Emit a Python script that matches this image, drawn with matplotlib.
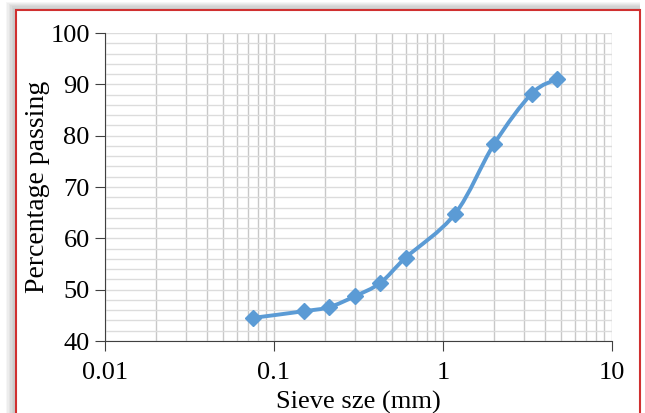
import numpy as np
import matplotlib
matplotlib.use('Agg')
import matplotlib.pyplot as plt
from matplotlib.path import Path
from matplotlib.patches import PathPatch, Rectangle

# sieve analysis data
sieve_mm = [0.075, 0.15, 0.212, 0.3, 0.425, 0.6, 1.18, 2.0, 3.35, 4.75]
passing = [44.5, 45.8, 46.6, 48.7, 51.3, 56.2, 64.8, 78.3, 88.2, 91.0]
xticks = [0.01, 0.1, 1, 10]
xticklabels = ['0.01', '0.1', '1', '10']
yticks = [40, 50, 60, 70, 80, 90, 100]

plt.rcParams['font.family'] = ['Liberation Serif', 'DejaVu Serif']
blue = '#5b9bd5'

fig = plt.figure(figsize=(6.45, 4.13), dpi=100)
# soft shadow then red frame
W, H = 645.0, 413.0
for k in range(8):
    fig.patches.append(Rectangle(((16 - k*1.5)/W, -0.05), (624 + k*1.5)/W, (413 - 10 + k*1.2)/H + 0.05,
                                 transform=fig.transFigure, facecolor='#000000', alpha=0.035,
                                 edgecolor='none', zorder=-10))
fig.patches.append(Rectangle((16/W, -0.05), 624/W, (413 - 10)/H + 0.05, transform=fig.transFigure,
                             facecolor='white', edgecolor='#d03030', lw=1.5, zorder=-5))

ax = fig.add_axes([105/645, 1 - 341/413, (612-105)/645, (341-33)/413])
ax.patch.set_alpha(0)
ax.set_xscale('log')
ax.set_xlim(0.01, 10)
ax.set_ylim(40, 100)

# smooth curve (catmull-rom as cubic bezier in log-x space)
lx = np.log10(sieve_mm)
py = np.array(passing)
verts = [(lx[0], py[0])]
codes = [Path.MOVETO]
n = len(lx)
for i in range(n - 1):
    p0 = (lx[max(i-1, 0)], py[max(i-1, 0)])
    p1 = (lx[i], py[i])
    p2 = (lx[i+1], py[i+1])
    p3 = (lx[min(i+2, n-1)], py[min(i+2, n-1)])
    c1 = (p1[0] + (p2[0]-p0[0])/6, p1[1] + (p2[1]-p0[1])/6)
    c2 = (p2[0] - (p3[0]-p1[0])/6, p2[1] - (p3[1]-p1[1])/6)
    verts += [c1, c2, p2]
    codes += [Path.CURVE4]*3
verts = [(10**vx, vy) for vx, vy in verts]
ax.add_patch(PathPatch(Path(verts, codes), facecolor='none', edgecolor=blue, lw=2.8, zorder=3))
ax.plot(sieve_mm, passing, linestyle='none', marker='D', ms=8, color=blue, zorder=4)

ax.set_yticks(yticks)
ax.set_yticks(np.arange(40, 101, 2), minor=True)
ax.set_xticks(xticks)
ax.set_xticklabels(xticklabels)
ax.xaxis.set_minor_locator(matplotlib.ticker.LogLocator(subs=np.arange(2, 10)))
ax.xaxis.set_minor_formatter(matplotlib.ticker.NullFormatter())
ax.grid(True, which='major', axis='x', color='#c8c8c8', lw=1.0)
ax.grid(True, which='minor', axis='x', color='#c8c8c8', lw=1.0)
ax.grid(True, which='both', axis='y', color='#dcdcdc', lw=1.0)
ax.set_axisbelow(True)
for s in ['top', 'right']:
    ax.spines[s].set_visible(False)
ax.spines['left'].set_color('#404040')
ax.spines['bottom'].set_color('#404040')
ax.tick_params(which='minor', length=0)
ax.tick_params(which='major', length=7, color='#404040', labelsize=19, direction='out')
ax.tick_params(axis='x', pad=8)
ax.tick_params(axis='y', pad=4)
ax.set_xlabel('Sieve sze (mm)', fontsize=19, labelpad=5)
ax.set_ylabel('Percentage passing', fontsize=20, labelpad=0)

fig.savefig('out.png', dpi=100)
